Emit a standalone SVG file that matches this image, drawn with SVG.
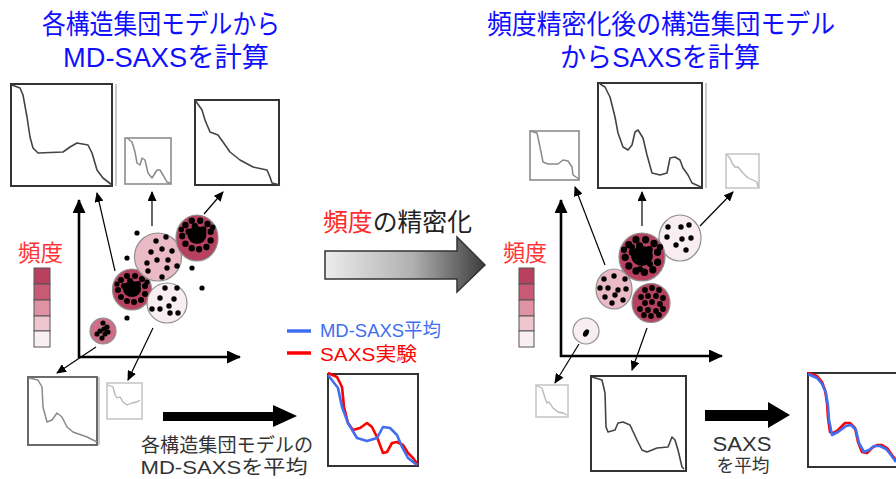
<svg xmlns="http://www.w3.org/2000/svg" width="896" height="479" viewBox="0 0 896 479">
<defs>
<style>
.t{font-family:"Liberation Sans","Noto Sans CJK JP",sans-serif}
.ttl{font-size:27px;fill:#1010ff}
.frm{fill:#fff;stroke:#333;stroke-width:2}
.frm2{fill:#fff;stroke:#8c8c8c;stroke-width:1.6}
.frm3{fill:#fff;stroke:#c4c4c4;stroke-width:1.5}
.shd{stroke:#b8b8b8;stroke-width:1.5}
.cv{fill:none;stroke:#444;stroke-width:1.6;stroke-linejoin:round}
.cv2{fill:none;stroke:#8a8a8a;stroke-width:1.5;stroke-linejoin:round}
.cv3{fill:none;stroke:#b5b5b5;stroke-width:1.3;stroke-linejoin:round}
.conn{stroke:#000;stroke-width:1.2;fill:none}
.axis{stroke:#000;stroke-width:2.6;fill:none}
.dk{fill:#b8415f;stroke:#8f8f8f;stroke-width:1.2}
.pk{fill:#ebbac7;stroke:#8f8f8f;stroke-width:1.2}
.wh{fill:#f8edf0;stroke:#8f8f8f;stroke-width:1.2}
.md{fill:#cd6f87;stroke:#8f8f8f;stroke-width:1.2}
.cell{stroke:#555;stroke-width:1}
.red{fill:none;stroke:#ff0000;stroke-width:2.6;stroke-linejoin:round}
.blue{fill:none;stroke:#3f6ff0;stroke-width:2.6;stroke-linejoin:round}
</style>
<marker id="ah" markerUnits="userSpaceOnUse" markerWidth="10" markerHeight="9" refX="9" refY="4.5" orient="auto"><path d="M0,0 L10,4.5 L0,9 z" fill="#000"/></marker>
<marker id="ax" markerUnits="userSpaceOnUse" markerWidth="14" markerHeight="13" refX="13" refY="6.5" orient="auto"><path d="M0,0 L14,6.5 L0,13 z" fill="#000"/></marker>
<linearGradient id="gr" x1="0" y1="0" x2="1" y2="0"><stop offset="0" stop-color="#ececec"/><stop offset="0.55" stop-color="#b0b0b0"/><stop offset="1" stop-color="#3c3c3c"/></linearGradient>
<g id="dense">
<ellipse cx="0" cy="0" rx="9" ry="8" fill="#000"/>
<g fill="#000">
<circle cx="-11" cy="-9" r="3"/><circle cx="-5" cy="-13" r="3"/><circle cx="3" cy="-13" r="3"/><circle cx="10" cy="-10" r="3"/><circle cx="13" cy="-3" r="3"/><circle cx="13" cy="5" r="3"/><circle cx="9" cy="11" r="3"/><circle cx="2" cy="13" r="3"/><circle cx="-5" cy="12" r="3"/><circle cx="-11" cy="8" r="3"/><circle cx="-14" cy="1" r="3"/><circle cx="-8" cy="-3" r="3"/><circle cx="6" cy="-5" r="3"/><circle cx="15" cy="-7" r="2.6"/><circle cx="-15" cy="-5" r="2.6"/><circle cx="-2" cy="-8" r="3"/>
</g>
</g>
</defs>
<rect width="896" height="479" fill="#fff"/>

<g id="title-left" class="t ttl">
<text x="161" y="34" text-anchor="middle" textLength="238" lengthAdjust="spacingAndGlyphs">各構造集団モデルから</text>
<text x="166" y="67" text-anchor="middle" textLength="206" lengthAdjust="spacingAndGlyphs">MD-SAXSを計算</text>
</g>
<g id="title-right" class="t ttl">
<text x="661" y="34" text-anchor="middle" textLength="348" lengthAdjust="spacingAndGlyphs">頻度精密化後の構造集団モデル</text>
<text x="660" y="67" text-anchor="middle" textLength="200" lengthAdjust="spacingAndGlyphs">からSAXSを計算</text>
</g>

<!-- Left panel plots -->
<g id="plot-L1"><line class="shd" x1="116" y1="84" x2="116" y2="186"/><rect class="frm" x="11" y="84" width="101" height="102"/>
<polyline class="cv" points="12,85 20,88 23,95 27,117 30,137 33,148 38,153 63,152 70,147 77,143 88,145 92,153 97,170 103,178 112,185"/></g>
<g id="plot-L2"><rect class="frm2" x="125" y="138" width="46" height="46"/>
<polyline class="cv2" points="127,138 132,142 135,152 137,163 140,165 142,158 145,160 148,173 152,178 157,170 160,170 163,175 167,182 170,183"/></g>
<g id="plot-L3"><rect class="frm" x="195" y="100" width="84" height="85"/>
<polyline class="cv" points="195,100 202,110 205,120 210,132 218,135 223,142 230,152 240,160 253,167 267,170 270,177 272,183 280,185"/></g>
<g id="plot-L4"><line class="shd" x1="99" y1="377" x2="99" y2="445"/><rect fill="#fff" stroke="#6a6a6a" stroke-width="2" x="28" y="377" width="69" height="68"/>
<polyline class="cv2" stroke="#777" points="29,378 38,380 42,387 43,407 47,422 52,420 57,413 62,417 67,427 73,432 87,437 97,442"/></g>
<g id="plot-L5"><rect class="frm3" x="107" y="383" width="35" height="36"/>
<polyline class="cv3" points="108,385 113,387 115,395 117,398 120,397 123,402 127,405 132,403 137,402 140,400"/></g>
<g id="plot-L6"><rect class="frm" stroke="#444" x="328" y="374" width="90" height="92"/>
<polyline class="red" points="328,373 337,377 342,387 344,407 348,423 353,430 360,428 367,423 372,427 377,437 380,445 383,453 387,452 392,443 397,442 403,445 408,453 413,458 418,465"/>
<polyline class="blue" points="328,375 338,388 342,407 348,423 357,438 367,441 377,438 383,427 390,428 397,435 402,447 408,458 417,465"/></g>

<!-- Left legend -->
<g id="freq-left">
<text class="t" x="18" y="261" font-size="23" fill="#ff3535" textLength="45" lengthAdjust="spacingAndGlyphs">頻度</text>
<rect class="cell" x="34" y="268" width="16" height="16" fill="#b8415f"/>
<rect class="cell" x="34" y="284" width="16" height="16" fill="#c95a75"/>
<rect class="cell" x="34" y="300" width="16" height="16" fill="#df92a4"/>
<rect class="cell" x="34" y="316" width="16" height="15" fill="#efc6d0"/>
<rect class="cell" x="34" y="331" width="16" height="16" fill="#f9eef1"/>
</g>

<!-- Left clusters -->
<g id="cluster-LA"><ellipse class="dk" cx="132" cy="289.5" rx="19.5" ry="20.5"/><use href="#dense" transform="translate(132,289)"/></g>
<g id="cluster-LB"><ellipse class="pk" cx="158" cy="257" rx="23.5" ry="24"/>
<g fill="#000"><circle cx="156" cy="241" r="2.7"/><circle cx="166" cy="237" r="2.7"/><circle cx="151" cy="252" r="2.7"/><circle cx="162" cy="249" r="2.7"/><circle cx="172" cy="251" r="2.7"/><circle cx="147" cy="263" r="2.7"/><circle cx="157" cy="260" r="2.7"/><circle cx="168" cy="260" r="2.7"/><circle cx="177" cy="266" r="2.7"/><circle cx="148" cy="271" r="2.7"/><circle cx="167" cy="268" r="2.7"/><circle cx="162" cy="277" r="2.7"/></g></g>
<g id="cluster-LC"><ellipse class="dk" cx="197" cy="238" rx="21" ry="23"/><use href="#dense" transform="translate(197,235) scale(1.05,1.1)"/></g>
<g id="cluster-LD"><ellipse class="wh" cx="167" cy="303" rx="20" ry="20"/>
<g fill="#000"><circle cx="165" cy="288" r="2.7"/><circle cx="177" cy="288" r="2.7"/><circle cx="160" cy="298" r="2.7"/><circle cx="174" cy="299" r="2.7"/><circle cx="169" cy="306" r="2.7"/><circle cx="152" cy="309" r="2.7"/><circle cx="160" cy="309" r="2.7"/><circle cx="170" cy="313" r="2.7"/><circle cx="178" cy="313" r="2.7"/></g></g>
<g id="cluster-LE"><circle class="md" cx="103" cy="331" r="13"/>
<g fill="#000"><circle cx="103" cy="323" r="2.6"/><circle cx="107" cy="327" r="2.6"/><circle cx="100" cy="331" r="2.6"/><circle cx="105" cy="334" r="2.6"/><circle cx="102" cy="338" r="2.6"/><circle cx="108" cy="332" r="2.6"/><circle cx="97" cy="334" r="2.6"/><circle cx="104" cy="329" r="2.6"/></g></g>
<g id="scatter-left" fill="#000"><circle cx="137" cy="233" r="2.6"/><circle cx="127" cy="258" r="2.6"/><circle cx="192" cy="268" r="2.6"/><circle cx="202" cy="288" r="2.6"/><circle cx="127" cy="318" r="2.6"/></g>

<!-- Legend of curves -->
<g id="curve-legend">
<line x1="287" y1="331" x2="311" y2="331" stroke="#3f6ff0" stroke-width="3.5"/>
<text class="t" x="320" y="337" font-size="19" fill="#3f6ff0" textLength="121" lengthAdjust="spacingAndGlyphs">MD-SAXS平均</text>
<line x1="287" y1="353" x2="311" y2="353" stroke="#ff0000" stroke-width="3.5"/>
<text class="t" x="320" y="361" font-size="19" fill="#ff0000" textLength="97" lengthAdjust="spacingAndGlyphs">SAXS実験</text>
</g>

<!-- Middle arrow -->
<g id="refine-arrow">
<text class="t" x="323" y="231" font-size="25" textLength="149" lengthAdjust="spacingAndGlyphs"><tspan fill="#ff2a2a">頻度</tspan><tspan fill="#222">の精密化</tspan></text>
<polygon points="325,251 457,251 457,237 485,265 457,292 457,279 325,279" fill="url(#gr)" stroke="#333" stroke-width="1.5"/>
</g>

<!-- Left bottom arrow and text -->
<g id="avg-left">
<polygon points="163,412 273,412 273,405 297,416 273,427 273,421 163,421" fill="#000"/>
<text class="t" x="227" y="452" font-size="19" fill="#333" text-anchor="middle" textLength="172" lengthAdjust="spacingAndGlyphs">各構造集団モデルの</text>
<text class="t" x="224" y="474" font-size="19" fill="#333" text-anchor="middle" textLength="167" lengthAdjust="spacingAndGlyphs">MD-SAXSを平均</text>
</g>

<!-- Right panel plots -->
<g id="plot-R1"><rect class="frm2" x="530" y="131" width="49" height="49"/>
<polyline class="cv2" points="530,131 537,133 540,147 543,162 548,164 558,164 563,160 568,161 572,167 573,175 579,179"/></g>
<g id="plot-R2"><line class="shd" x1="706" y1="83" x2="706" y2="188"/><rect class="frm" x="598" y="83" width="104" height="105"/>
<polyline class="cv" points="600,84 605,87 610,97 615,117 618,133 623,147 628,150 632,145 635,132 638,130 643,138 647,155 652,173 660,175 667,173 670,158 675,157 680,160 683,168 688,175 692,183 701,187"/></g>
<g id="plot-R3"><rect class="frm3" x="726" y="154" width="33" height="34"/>
<polyline class="cv3" points="727,155 730,158 732,163 735,167 738,167 743,173 748,178 753,180 757,182 758,187"/></g>
<g id="plot-R4"><rect class="frm3" stroke="#d0d0d0" x="536" y="385" width="32" height="32"/>
<polyline class="cv3" points="537,386 542,388 545,398 547,403 549,402 553,408 558,412 563,413 567,415"/></g>
<g id="plot-R5"><rect class="frm" x="591" y="376" width="95" height="95"/>
<polyline class="cv" stroke="#555" points="592,377 602,380 605,393 606,427 608,432 615,430 618,423 623,422 630,425 637,440 642,450 647,452 657,448 668,447 672,437 675,440 678,450 682,467 684,469"/></g>
<g id="plot-R6"><rect class="frm" stroke="#444" x="808" y="373" width="94" height="94"/>
<polyline class="red" points="808,373 817,376 822,382 825,390 827,403 828,418 830,432 833,433 838,430 845,423 850,423 855,428 858,442 862,452 867,453 872,448 877,445 882,445 887,448 892,455 896,460"/>
<polyline class="blue" points="808,374 817,378 822,384 826,393 828,406 829,420 832,435 838,432 846,426 851,425 856,430 859,443 864,452 869,450 874,446 880,446 886,449 891,455 896,462"/></g>

<!-- Right legend -->
<g id="freq-right">
<text class="t" x="503" y="261" font-size="23" fill="#ff3535" textLength="44" lengthAdjust="spacingAndGlyphs">頻度</text>
<rect class="cell" x="519" y="268" width="15" height="16" fill="#b8415f"/>
<rect class="cell" x="519" y="284" width="15" height="16" fill="#c95a75"/>
<rect class="cell" x="519" y="300" width="15" height="16" fill="#df92a4"/>
<rect class="cell" x="519" y="316" width="15" height="15" fill="#efc6d0"/>
<rect class="cell" x="519" y="331" width="15" height="16" fill="#f9eef1"/>
</g>

<!-- Right clusters -->
<g id="cluster-RA"><ellipse class="wh" cx="680" cy="238" rx="21" ry="23"/>
<g fill="#000"><circle cx="668" cy="227" r="2.7"/><circle cx="681" cy="227" r="2.7"/><circle cx="689" cy="225" r="2.7"/><circle cx="667" cy="237" r="2.7"/><circle cx="682" cy="239" r="2.7"/><circle cx="691" cy="238" r="2.7"/><circle cx="676" cy="245" r="2.7"/><circle cx="686" cy="250" r="2.7"/></g></g>
<g id="cluster-RB"><ellipse class="dk" cx="642" cy="257" rx="23" ry="24"/>
<use href="#dense" transform="translate(642,256) scale(1.2,1.25)"/>
<g fill="#000"><circle cx="632" cy="247" r="3"/><circle cx="650" cy="264" r="3"/><circle cx="640" cy="269" r="3"/></g></g>
<g id="cluster-RC"><ellipse class="pk" cx="614" cy="289" rx="18" ry="20"/>
<g fill="#000"><circle cx="604" cy="279" r="2.7"/><circle cx="614" cy="276" r="2.7"/><circle cx="625" cy="279" r="2.7"/><circle cx="600" cy="288" r="2.7"/><circle cx="608" cy="288" r="2.7"/><circle cx="618" cy="290" r="2.7"/><circle cx="626" cy="289" r="2.7"/><circle cx="605" cy="297" r="2.7"/><circle cx="615" cy="295" r="2.7"/><circle cx="623" cy="300" r="2.7"/><circle cx="612" cy="303" r="2.7"/></g></g>
<g id="cluster-RD"><ellipse class="dk" fill="#bf4d69" cx="651" cy="303" rx="19" ry="19.5"/>
<g fill="#000"><circle cx="645" cy="290" r="2.9"/><circle cx="652" cy="288" r="2.9"/><circle cx="659" cy="290" r="2.9"/><circle cx="641" cy="297" r="2.9"/><circle cx="648" cy="296" r="2.9"/><circle cx="656" cy="296" r="2.9"/><circle cx="663" cy="298" r="2.9"/><circle cx="645" cy="303" r="2.9"/><circle cx="652" cy="302" r="2.9"/><circle cx="660" cy="304" r="2.9"/><circle cx="640" cy="309" r="2.9"/><circle cx="648" cy="310" r="2.9"/><circle cx="656" cy="311" r="2.9"/><circle cx="663" cy="309" r="2.9"/><circle cx="651" cy="316" r="2.9"/><circle cx="659" cy="315" r="2.9"/><circle cx="644" cy="315" r="2.9"/></g></g>
<g id="cluster-RE"><circle class="wh" cx="586" cy="331" r="13"/><ellipse cx="586" cy="333" rx="2.6" ry="4" transform="rotate(30 586 333)" fill="#000"/></g>

<!-- Right bottom arrow and text -->
<g id="avg-right">
<polygon points="705,410 768,410 768,402 790,415 768,428 768,421 705,421" fill="#000"/>
<text class="t" x="742" y="451" font-size="20" fill="#333" text-anchor="middle" textLength="59" lengthAdjust="spacingAndGlyphs">SAXS</text>
<text class="t" x="743" y="472" font-size="18" fill="#333" text-anchor="middle" textLength="53" lengthAdjust="spacingAndGlyphs">を平均</text>
</g>

<!-- Connectors -->
<g id="connectors">
<line class="axis" x1="79" y1="358" x2="79" y2="200" marker-end="url(#ax)"/>
<line class="axis" x1="78" y1="357" x2="240" y2="357" marker-end="url(#ax)"/>
<line class="axis" x1="561" y1="357" x2="561" y2="200" marker-end="url(#ax)"/>
<line class="axis" x1="560" y1="356" x2="722" y2="356" marker-end="url(#ax)"/>
<line class="conn" x1="115" y1="271" x2="97" y2="193" marker-end="url(#ah)"/>
<line class="conn" x1="152" y1="226" x2="152" y2="192" marker-end="url(#ah)"/>
<line class="conn" x1="204" y1="214" x2="223" y2="192" marker-end="url(#ah)"/>
<line class="conn" x1="96" y1="347" x2="57" y2="373" marker-end="url(#ah)"/>
<line class="conn" x1="153" y1="328" x2="128" y2="380" marker-end="url(#ah)"/>
<line class="conn" x1="605" y1="265" x2="575" y2="187" marker-end="url(#ah)"/>
<line class="conn" x1="642" y1="226" x2="642" y2="192" marker-end="url(#ah)"/>
<line class="conn" x1="700" y1="226" x2="733" y2="192" marker-end="url(#ah)"/>
<line class="conn" x1="579" y1="344" x2="555" y2="383" marker-end="url(#ah)"/>
<line class="conn" x1="647" y1="328" x2="632" y2="370" marker-end="url(#ah)"/>
</g>
</svg>
